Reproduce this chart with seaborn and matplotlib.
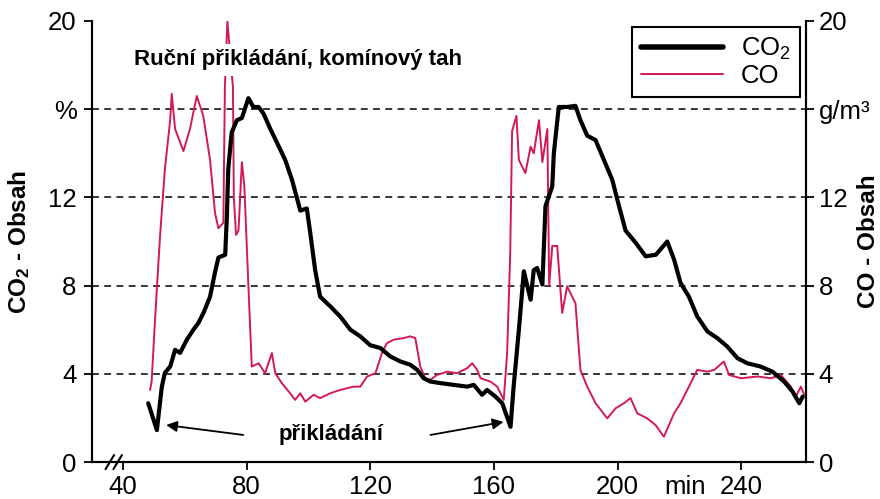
import matplotlib
matplotlib.use("Agg")
import matplotlib.pyplot as plt
import seaborn as sns

# CO2 content (%), black line
co2_t = [48.2, 51.0, 52.6, 53.6, 55.3, 56.9, 58.5, 60.7, 62.8, 64.4,
         66.1, 68.2, 69.8, 70.9, 73.1, 73.6, 74.1, 75.2, 76.9, 78.5,
         80.6, 82.2, 83.9, 85.5, 87.7, 89.8, 92.5, 94.7, 97.4, 99.5,
         100.6, 102.2, 103.8, 107.1, 110.3, 113.6, 116.8, 120.0, 123.3, 126.5,
         129.8, 133.0, 135.2, 137.3, 139.5, 142.7, 147.0, 151.4, 153.5, 156.2,
         157.8, 160.5, 162.7, 165.4, 166.4, 168.1, 169.7, 171.9, 172.9, 174.0,
         175.7, 176.7, 178.9, 179.4, 181.0, 183.7, 186.4, 188.0, 190.2, 192.9,
         195.6, 198.3, 200.5, 202.6, 205.9, 209.1, 212.4, 216.1, 218.3, 220.4,
         223.1, 225.8, 229.1, 232.3, 235.5, 238.8, 242.0, 246.3, 250.1, 253.9,
         256.6, 258.8, 259.9]
co2_v = [2.67, 1.45, 3.42, 4.05, 4.33, 5.09, 4.95, 5.55, 6.0, 6.3,
         6.77, 7.5, 8.6, 9.27, 9.4, 11.0, 13.3, 14.95, 15.5, 15.6,
         16.5, 16.1, 16.1, 15.8, 15.1, 14.5, 13.7, 12.8, 11.4, 11.5,
         10.4, 8.7, 7.5, 7.06, 6.6, 6.0, 5.7, 5.3, 5.17, 4.79,
         4.56, 4.41, 4.18, 3.8, 3.65, 3.58, 3.5, 3.42, 3.5, 3.05,
         3.27, 2.97, 2.67, 1.6, 3.42, 6.0, 8.65, 7.36, 8.7, 8.8,
         8.05, 11.6, 12.5, 14.0, 16.1, 16.1, 16.15, 15.5, 14.8, 14.6,
         13.7, 12.8, 11.6, 10.5, 9.94, 9.33, 9.4, 10.0, 9.18, 8.12,
         7.5, 6.6, 5.92, 5.62, 5.24, 4.71, 4.48, 4.33, 4.1, 3.65,
         3.2, 2.67, 2.97]

# CO content (g/m3), red line
co_t = [48.8, 49.3, 50.4, 52.0, 53.6, 55.3, 55.8, 56.9, 59.6, 61.7,
        63.9, 66.0, 68.2, 69.8, 70.9, 72.5, 73.0, 73.8, 75.6, 75.9,
        76.6, 77.4, 78.5, 79.3, 80.6, 81.7, 83.9, 86.0, 88.2, 89.3,
        91.4, 94.1, 95.7, 97.4, 99.0, 101.7, 103.8, 107.1, 110.3, 114.6,
        116.8, 119.0, 121.7, 123.8, 125.4, 127.6, 130.8, 133.0, 134.6, 136.2,
        137.8, 139.5, 141.6, 144.9, 148.1, 151.4, 153.0, 154.6, 155.7, 158.9,
        161.1, 163.2, 164.3, 165.3, 165.9, 167.3, 168.1, 170.2, 171.9, 172.9,
        174.6, 175.7, 177.3, 177.9, 178.9, 180.5, 182.1, 183.7, 186.4, 188.0,
        190.2, 192.9, 196.7, 199.4, 202.1, 204.2, 206.4, 209.6, 212.3, 215.0,
        218.3, 220.4, 223.1, 225.8, 229.1, 231.3, 234.4, 236.1, 239.9, 245.3,
        249.6, 252.8, 256.1, 257.7, 259.3, 260.4]
co_v = [3.27, 3.65, 6.45, 10.2, 13.3, 15.5, 16.7, 15.1, 14.1, 15.1,
        16.6, 15.7, 13.7, 11.3, 10.6, 10.85, 17.0, 20.0, 17.0, 12.0,
        10.3, 10.5, 13.6, 12.5, 8.0, 4.33, 4.48, 4.03, 4.94, 4.03,
        3.58, 3.12, 2.82, 3.12, 2.74, 3.05, 2.9, 3.12, 3.27, 3.42,
        3.42, 3.88, 4.03, 4.94, 5.39, 5.55, 5.62, 5.7, 5.62, 4.33,
        3.8, 3.73, 3.95, 4.1, 4.03, 4.26, 4.48, 4.18, 3.8, 3.65,
        3.42, 2.82, 4.94, 9.5, 15.0, 15.7, 13.7, 13.1, 14.3, 14.0,
        15.5, 13.6, 15.1, 8.0, 9.8, 9.8, 6.76, 7.97, 7.2, 4.18,
        3.42, 2.67, 1.98, 2.44, 2.67, 2.9, 2.21, 1.98, 1.68, 1.15,
        2.21, 2.67, 3.42, 4.18, 4.1, 4.18, 4.56, 3.95, 3.8, 3.88,
        3.8, 3.95, 3.42, 2.97, 3.42, 3.05]

x_ticks = [40, 80, 120, 160, 200, 240]
y_ticks = [0, 4, 8, 12, 16, 20]
left_labels = ['0', '4', '8', '12', '%', '20']
right_labels = ['0', '4', '8', '12', 'g/m³', '20']
grid_levels = [4, 8, 12, 16]

sns.set_style("ticks")
plt.rcParams['font.family'] = ['Liberation Sans', 'DejaVu Sans']
plt.rcParams['text.color'] = 'black'
plt.rcParams['axes.labelcolor'] = 'black'
plt.rcParams['mathtext.fontset'] = 'custom'
plt.rcParams['mathtext.rm'] = 'Liberation Sans'
plt.rcParams['mathtext.bf'] = 'Liberation Sans:bold'
plt.rcParams['mathtext.default'] = 'regular'

fig = plt.figure(figsize=(8.8, 4.99), dpi=100)
ax = fig.add_axes([0.1045, 0.074, 0.8115, 0.884])
ax2 = ax.twinx()

for lev in grid_levels:
    ax.axhline(lev, color='black', lw=1.1, dashes=(4.5, 3.5), zorder=1)

sns.lineplot(x=co_t, y=co_v, ax=ax, color='#d2195a', lw=1.4, label='CO',
             estimator=None, sort=False, legend=False, zorder=3)
sns.lineplot(x=co2_t, y=co2_v, ax=ax, color='black', lw=3, label='CO$_2$',
             estimator=None, sort=False, legend=False, zorder=4)

for a in (ax, ax2):
    a.set_xlim(30, 261)
    a.set_ylim(0, 20)
    a.set_yticks(y_ticks)
    for s in a.spines.values():
        s.set_linewidth(1.5)
        s.set_color('black')
    a.tick_params(direction='out', length=6, width=1.3, labelsize=18.5, colors='black')
ax.spines['top'].set_visible(False)
ax2.spines['top'].set_visible(False)
ax.set_yticklabels(left_labels)
ax2.set_yticklabels(right_labels)
ax.tick_params(axis='y', pad=5)
ax2.tick_params(axis='y', pad=3)
ax.tick_params(axis='x', pad=3)
ax.set_xticks(x_ticks)
ax.set_xlabel('')

ax.set_ylabel('CO$_2$ - Obsah', fontsize=17.5, fontweight='bold')
ax2.set_ylabel('CO - Obsah', fontsize=17.5, fontweight='bold')
ax.yaxis.set_label_coords(-0.084, 0.5)
ax2.yaxis.set_label_coords(1.071, 0.5)

# axis break marks
for x0 in (0.019, 0.030):
    ax.plot([x0, x0 + 0.012], [-0.016, 0.016], transform=ax.transAxes,
            color='black', lw=1.5, clip_on=False, zorder=6)

ax.annotate('min', xy=(222, 0), xycoords=('data', 'axes fraction'),
            xytext=(0, -9), textcoords='offset points', ha='center', va='top', fontsize=18.5)

ax.text(43.5, 18.25, 'Ruční přikládání, komínový tah', fontsize=16, fontweight='bold',
        va='center', ha='left', zorder=5,
        bbox=dict(fc='white', ec='none', pad=4))

ax.text(107.4, 1.25, 'přikládání', fontsize=16, fontweight='bold', ha='center', va='center')
arrow = dict(arrowstyle='-|>', color='black', lw=1.3, mutation_scale=16, shrinkA=0, shrinkB=0)
ax.annotate('', xy=(54.0, 1.68), xytext=(78.9, 1.23), arrowprops=arrow)
ax.annotate('', xy=(163.1, 1.82), xytext=(139.5, 1.23), arrowprops=arrow)

handles, labels = ax.get_legend_handles_labels()
order = [labels.index('CO$_2$'), labels.index('CO')]
leg = ax2.legend([handles[i] for i in order], [labels[i] for i in order],
                 loc='upper right', bbox_to_anchor=(0.9916, 0.986), borderaxespad=0,
                 frameon=True, fancybox=False, edgecolor='black', framealpha=1,
                 fontsize=18.5, handlelength=3.2, handletextpad=0.7, borderpad=0.35,
                 labelspacing=0.05)
leg.get_frame().set_linewidth(1.5)
leg.get_lines()[0].set_linewidth(4)

fig.savefig('out.png', dpi=100)
